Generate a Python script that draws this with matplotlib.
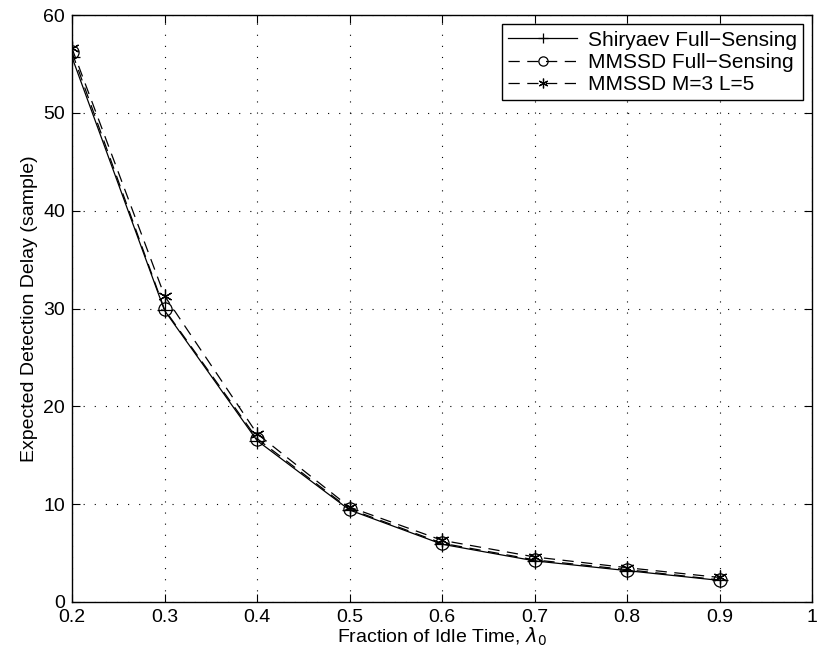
import matplotlib
matplotlib.use("Agg")
import matplotlib.pyplot as plt

# idle-time fractions and expected detection delays
lam = [0.2, 0.3, 0.4, 0.5, 0.6, 0.7, 0.8, 0.9]
shiryaev_full = [55.7, 29.8, 16.5, 9.4, 5.9, 4.2, 3.2, 2.2]
mmssd_full = [56.2, 29.9, 16.7, 9.5, 6.0, 4.3, 3.3, 2.25]
mmssd_m3l5 = [56.6, 31.3, 17.2, 9.7, 6.3, 4.6, 3.5, 2.5]

plt.rcParams['font.family'] = ['Liberation Sans', 'DejaVu Sans']

fig = plt.figure(figsize=(8.18, 6.55), dpi=100)
ax = fig.add_axes([0.088, 0.081, 0.905, 0.896])

ax.plot(lam, shiryaev_full, '-', color='k', lw=0.9, marker='+', ms=11, mew=0.9,
        label='Shiryaev Full\u2212Sensing')
ax.plot(lam, mmssd_full, '--', color='k', lw=0.9, marker='o', ms=9.5, mfc='none', mew=0.9,
        dashes=(9, 6), label='MMSSD Full\u2212Sensing')
ax.plot(lam, mmssd_m3l5, '--', color='k', lw=0.9, marker=(6, 2, 0), ms=10, mew=0.9,
        dashes=(9, 6), label='MMSSD M=3 L=5')

ax.set_xlim(0.2, 1.0)
ax.set_ylim(0, 60)
ax.set_xticks([0.2, 0.3, 0.4, 0.5, 0.6, 0.7, 0.8, 0.9, 1.0])
ax.set_xticklabels(['0.2', '0.3', '0.4', '0.5', '0.6', '0.7', '0.8', '0.9', '1'])
ax.set_yticks([0, 10, 20, 30, 40, 50, 60])
ax.tick_params(direction='in', top=True, right=True, labelsize=14, length=6, pad=5)
ax.grid(True, linestyle=(0, (1, 9)), color='k', linewidth=0.8)
for s in ax.spines.values():
    s.set_linewidth(1)

ax.set_xlabel('Fraction of Idle Time, $\\lambda_0$', fontsize=14, labelpad=0)
ax.set_ylabel('Expected Detection Delay (sample)', fontsize=14, labelpad=4)

leg = ax.legend(loc='upper right', fontsize=15, frameon=True, fancybox=False,
                edgecolor='k', framealpha=1, handlelength=3.3, markerscale=0.7,
                borderaxespad=0.45, labelspacing=0.15, borderpad=0.3,
                handletextpad=0.5)
leg.get_frame().set_linewidth(1)

fig.savefig('out.png', dpi=100)
